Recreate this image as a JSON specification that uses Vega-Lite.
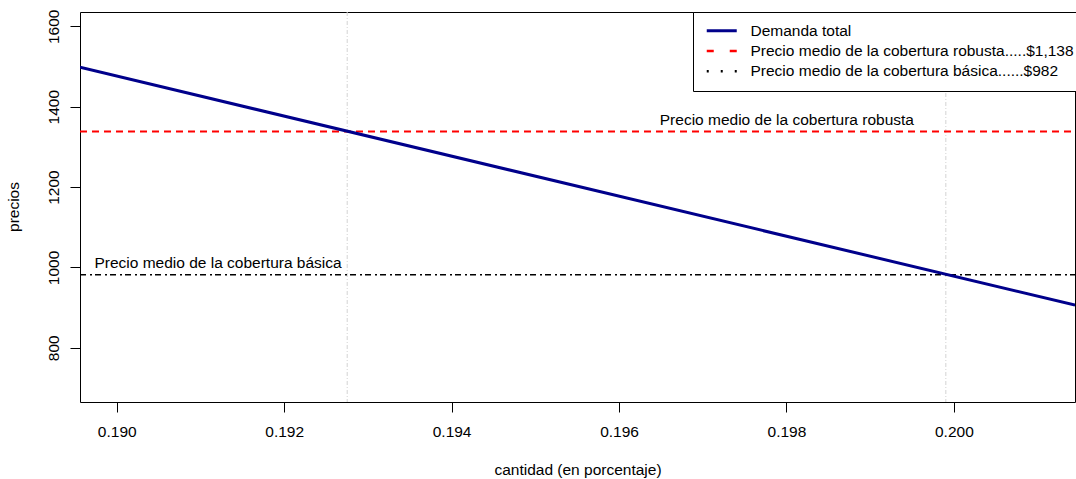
{
  "$schema": "https://vega.github.io/schema/vega-lite/v6.json",
  "width": 995,
  "height": 390,
  "autosize": {"type": "none"},
  "padding": {"left": 80, "top": 12, "right": 1, "bottom": 77},
  "config": {
    "font": "Liberation Sans",
    "view": {"stroke": "black", "strokeWidth": 1},
    "axis": {
      "grid": false,
      "domain": false,
      "tickColor": "black",
      "tickSize": 10,
      "labelColor": "black",
      "titleColor": "black",
      "labelFontSize": 15.5,
      "titleFontSize": 15.5,
      "titleFontWeight": "normal"
    }
  },
  "datasets": {
    "lines": [
      {"k": "demanda", "s": "Demanda total", "x": 0.189561, "y": 1498},
      {"k": "demanda", "s": "Demanda total", "x": 0.201447, "y": 906},
      {"k": "robusta", "s": "Precio medio de la cobertura robusta.....$1,138", "x": 0.189561, "y": 1338},
      {"k": "robusta", "s": "Precio medio de la cobertura robusta.....$1,138", "x": 0.201447, "y": 1338},
      {"k": "basica", "s": "Precio medio de la cobertura básica......$982", "x": 0.189561, "y": 982},
      {"k": "basica", "s": "Precio medio de la cobertura básica......$982", "x": 0.201447, "y": 982}
    ],
    "vlines": [
      {"x": 0.192753},
      {"x": 0.199904}
    ],
    "notes": [
      {"label": "Precio medio de la cobertura robusta", "x": 0.198005, "y": 1338},
      {"label": "Precio medio de la cobertura básica", "x": 0.19121, "y": 982}
    ]
  },
  "layer": [
    {
      "data": {"name": "vlines"},
      "mark": {"type": "rule", "color": "#D3D3D3", "strokeWidth": 1, "strokeDash": [4, 2, 1, 2]},
      "encoding": {
        "x": {
          "field": "x",
          "type": "quantitative",
          "scale": {"domain": [0.189561, 0.201447], "nice": false, "zero": false},
          "axis": {
            "values": [0.19, 0.192, 0.194, 0.196, 0.198, 0.2],
            "format": ".3f",
            "title": "cantidad (en porcentaje)",
            "labelBaseline": "alphabetic",
            "labelPadding": 24.6,
            "labelFlush": false,
            "labelOverlap": false,
            "titleX": 497.5,
            "titleY": 72.5,
            "titleAlign": "center",
            "titleBaseline": "alphabetic"
          }
        }
      }
    },
    {
      "data": {"name": "lines"},
      "transform": [{"filter": "datum.k === 'robusta'"}],
      "mark": {"type": "line", "strokeWidth": 2, "strokeDash": [7, 5], "clip": true},
      "encoding": {
        "x": {"field": "x", "type": "quantitative", "scale": {"domain": [0.189561, 0.201447], "nice": false, "zero": false}},
        "y": {
          "field": "y",
          "type": "quantitative",
          "scale": {"domain": [665, 1635.6], "nice": false, "zero": false},
          "axis": {
            "values": [800, 1000, 1200, 1400, 1600],
            "format": "d",
            "title": "precios",
            "labelAngle": -90,
            "labelAlign": "center",
            "labelBaseline": "alphabetic",
            "labelPadding": 11.7,
            "labelFlush": false,
            "labelOverlap": false,
            "titleAngle": 270,
            "titleX": -61.5,
            "titleY": 194.5,
            "titleAlign": "center",
            "titleBaseline": "alphabetic"
          }
        },
        "color": {
          "field": "s",
          "type": "nominal",
          "scale": {
            "domain": ["Demanda total", "Precio medio de la cobertura robusta.....$1,138", "Precio medio de la cobertura básica......$982"],
            "range": ["#00008B", "#FF0000", "#000000"]
          },
          "legend": {
            "title": null,
            "orient": "none",
            "legendX": 613,
            "legendY": 0,
            "strokeColor": "black",
            "fillColor": "white",
            "padding": 11,
            "symbolType": "M-0.667,0H3.333",
            "symbolSize": 225,
            "symbolStrokeWidth": 2.5,
            "labelFontSize": 15.5,
            "labelColor": "black",
            "labelLimit": 500,
            "labelOffset": 31,
            "rowPadding": 3.2,
            "encode": {
              "symbols": {
                "update": {
                  "strokeDash": {"signal": "datum.value === 'Demanda total' ? [1, 0] : (datum.value === 'Precio medio de la cobertura básica......$982' ? [2, 12] : [7, 16])"},
                  "strokeWidth": {"signal": "datum.value === 'Demanda total' ? 3 : 2.5"}
                }
              }
            }
          }
        }
      }
    },
    {
      "data": {"name": "lines"},
      "transform": [{"filter": "datum.k === 'basica'"}],
      "mark": {"type": "line", "strokeWidth": 1.5, "strokeDash": [6, 4, 2, 3], "clip": true},
      "encoding": {
        "x": {"field": "x", "type": "quantitative", "scale": {"domain": [0.189561, 0.201447], "nice": false, "zero": false}},
        "y": {"field": "y", "type": "quantitative", "scale": {"domain": [665, 1635.6], "nice": false, "zero": false}},
        "color": {"field": "s", "type": "nominal"}
      }
    },
    {
      "data": {"name": "lines"},
      "transform": [{"filter": "datum.k === 'demanda'"}],
      "mark": {"type": "line", "strokeWidth": 3, "clip": true},
      "encoding": {
        "x": {"field": "x", "type": "quantitative", "scale": {"domain": [0.189561, 0.201447], "nice": false, "zero": false}},
        "y": {"field": "y", "type": "quantitative", "scale": {"domain": [665, 1635.6], "nice": false, "zero": false}},
        "color": {"field": "s", "type": "nominal"}
      }
    },
    {
      "data": {"name": "notes"},
      "mark": {"type": "text", "dy": -6.5, "align": "center", "baseline": "alphabetic", "fontSize": 15.5, "color": "black"},
      "encoding": {
        "x": {"field": "x", "type": "quantitative", "scale": {"domain": [0.189561, 0.201447], "nice": false, "zero": false}},
        "y": {"field": "y", "type": "quantitative", "scale": {"domain": [665, 1635.6], "nice": false, "zero": false}},
        "text": {"field": "label"}
      }
    }
  ]
}
